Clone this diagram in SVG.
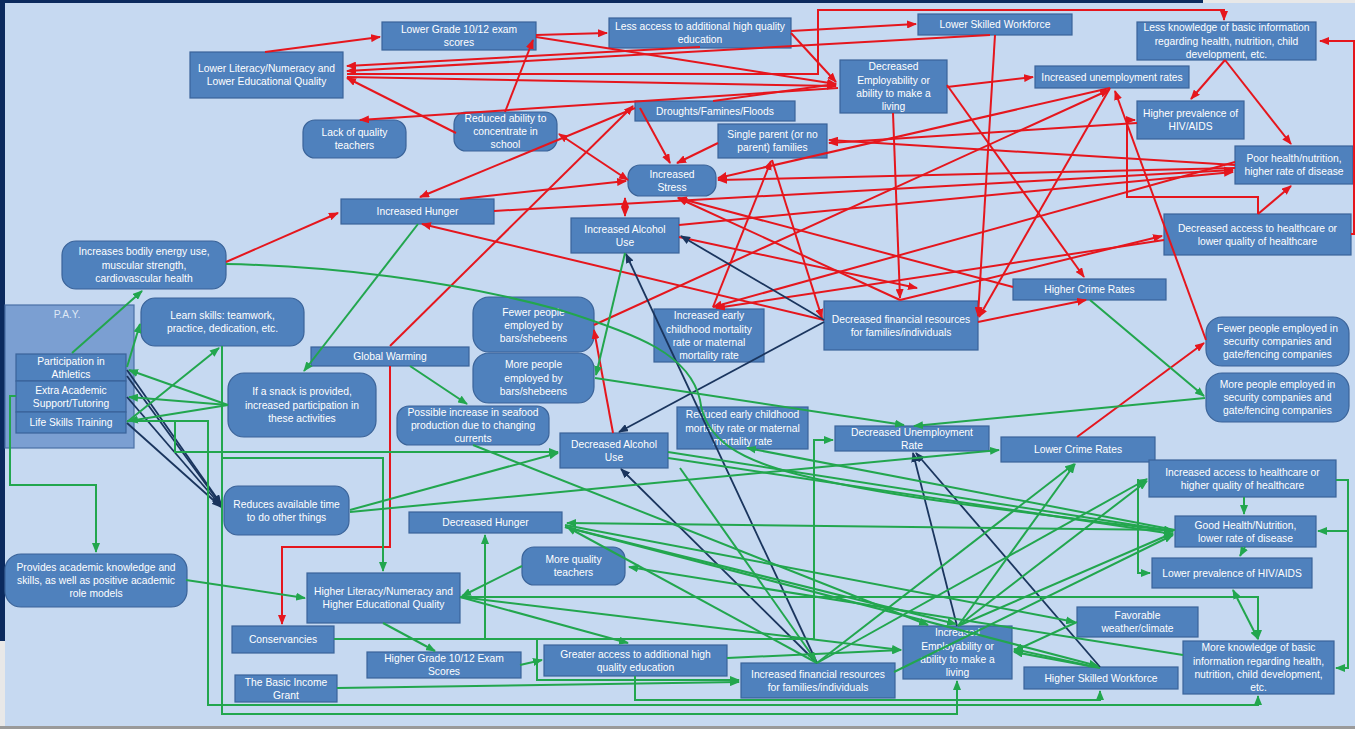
<svg xmlns="http://www.w3.org/2000/svg" width="1355" height="729" viewBox="0 0 1355 729">
<style>
.box{fill:#4f81bd;stroke:#3a6399;stroke-width:1.2}
.t{fill:#ffffff;font-family:"Liberation Sans",Arial,sans-serif;font-size:10.3px;text-anchor:middle}
.r{fill:none;stroke:#e5161d;stroke-width:2;marker-end:url(#ar)}
.rd{marker-start:url(#ar)}
.g{fill:none;stroke:#22a64e;stroke-width:2;marker-end:url(#ag)}
.gd{marker-start:url(#ag)}
.n{fill:none;stroke:#1a355e;stroke-width:1.8;marker-end:url(#an)}
</style>
<defs>
<marker id="ar" viewBox="0 0 10 8" refX="9" refY="4" markerWidth="10" markerHeight="8" markerUnits="userSpaceOnUse" orient="auto-start-reverse"><path d="M0,0 L10,4 L0,8 z" fill="#e5161d"/></marker>
<marker id="ag" viewBox="0 0 10 8" refX="9" refY="4" markerWidth="10" markerHeight="8" markerUnits="userSpaceOnUse" orient="auto-start-reverse"><path d="M0,0 L10,4 L0,8 z" fill="#22a64e"/></marker>
<marker id="an" viewBox="0 0 10 8" refX="9" refY="4" markerWidth="10" markerHeight="8" markerUnits="userSpaceOnUse" orient="auto-start-reverse"><path d="M0,0 L10,4 L0,8 z" fill="#1a355e"/></marker>
</defs>
<rect x="0" y="0" width="1355" height="729" fill="#e8e8e8"/>
<rect x="0" y="0" width="1203" height="4" fill="#0b2a5e"/>
<rect x="0" y="0" width="6" height="641" fill="#0b2a5e"/>
<rect x="5" y="3" width="1350" height="723" fill="#c6d9f1"/>
<rect x="0" y="726" width="1355" height="3" fill="#9a9a9a"/>

<g id="n-lower-literacy"><rect class="box" x="190" y="52" width="153" height="46"/><text class="t"><tspan x="266.5" y="72">Lower Literacy/Numeracy and</tspan><tspan x="266.5" y="85.3">Lower Educational Quality</tspan></text></g>
<g id="n-lower-grade"><rect class="box" x="382" y="22" width="154" height="28"/><text class="t"><tspan x="459" y="33">Lower Grade 10/12  exam</tspan><tspan x="459" y="46.3">scores</tspan></text></g>
<g id="n-less-access"><rect class="box" x="609" y="18" width="182" height="30"/><text class="t"><tspan x="700" y="30">Less access to additional high quality</tspan><tspan x="700" y="43.3">education</tspan></text></g>
<g id="n-lower-skilled"><rect class="box" x="918" y="14" width="154" height="21"/><text class="t" x="995" y="28.1">Lower Skilled Workforce</text></g>
<g id="n-less-knowledge"><rect class="box" x="1137" y="22" width="179" height="38"/><text class="t"><tspan x="1226.5" y="31.3">Less knowledge of basic information</tspan><tspan x="1226.5" y="44.6">regarding health, nutrition, child</tspan><tspan x="1226.5" y="57.9">development, etc.</tspan></text></g>
<g id="n-decreased-employability"><rect class="box" x="840" y="60" width="107" height="53"/><text class="t"><tspan x="893.5" y="70.2">Decreased</tspan><tspan x="893.5" y="83.5">Employability or</tspan><tspan x="893.5" y="96.8">ability to make a</tspan><tspan x="893.5" y="110">living</tspan></text></g>
<g id="n-increased-unemployment"><rect class="box" x="1035" y="66" width="154" height="22"/><text class="t" x="1112" y="80.6">Increased unemployment rates</text></g>
<g id="n-higher-hiv"><rect class="box" x="1137" y="101" width="107" height="38"/><text class="t"><tspan x="1190.5" y="117">Higher prevalence of</tspan><tspan x="1190.5" y="130.3">HIV/AIDS</tspan></text></g>
<g id="n-poor-health"><rect class="box" x="1235" y="146" width="118" height="38"/><text class="t"><tspan x="1294" y="162">Poor health/nutrition,</tspan><tspan x="1294" y="175.3">higher rate of disease</tspan></text></g>
<g id="n-decreased-access-health"><rect class="box" x="1164" y="214" width="187" height="41"/><text class="t"><tspan x="1257.5" y="231.5">Decreased access to healthcare or</tspan><tspan x="1257.5" y="244.8">lower quality of healthcare</tspan></text></g>
<g id="n-lack-teachers"><rect class="box" x="303" y="120" width="103" height="38" rx="12"/><text class="t"><tspan x="354.5" y="136">Lack of quality</tspan><tspan x="354.5" y="149.3">teachers</tspan></text></g>
<g id="n-reduced-concentrate"><rect class="box" x="454" y="112" width="103" height="39" rx="12"/><text class="t"><tspan x="505.5" y="121.8">Reduced ability to</tspan><tspan x="505.5" y="135.1">concentrate in</tspan><tspan x="505.5" y="148.4">school</tspan></text></g>
<g id="n-droughts"><rect class="box" x="635" y="101" width="160" height="20"/><text class="t" x="715" y="114.6">Droughts/Famines/Floods</text></g>
<g id="n-single-parent"><rect class="box" x="718" y="124" width="109" height="34"/><text class="t"><tspan x="772.5" y="138">Single parent (or no</tspan><tspan x="772.5" y="151.3">parent) families</tspan></text></g>
<g id="n-increased-stress"><rect class="box" x="628" y="165" width="88" height="31" rx="12"/><text class="t"><tspan x="672" y="177.5">Increased</tspan><tspan x="672" y="190.8">Stress</tspan></text></g>
<g id="n-increased-hunger"><rect class="box" x="341" y="199" width="153" height="25"/><text class="t" x="417.5" y="215.1">Increased Hunger</text></g>
<g id="n-increased-alcohol"><rect class="box" x="571" y="218" width="108" height="35"/><text class="t"><tspan x="625" y="232.5">Increased Alcohol</tspan><tspan x="625" y="245.8">Use</tspan></text></g>
<g id="n-bodily-energy"><rect class="box" x="62" y="241" width="164" height="48" rx="14"/><text class="t"><tspan x="144" y="255.3">Increases bodily energy use,</tspan><tspan x="144" y="268.6">muscular strength,</tspan><tspan x="144" y="281.9">cardiovascular health</tspan></text></g>
<g id="n-pay"><rect x="5" y="305" width="129" height="143" fill="#7b9fd2" stroke="#4a70a6" stroke-width="1.2"/><text class="t" x="67" y="318" fill="#dfe8f5" style="fill:#dfe8f5">P.A.Y.</text></g>
<g id="n-athletics"><rect class="box" x="16" y="354" width="110" height="27"/><text class="t"><tspan x="71" y="364.5">Participation in</tspan><tspan x="71" y="377.8">Athletics</tspan></text></g>
<g id="n-extra-academic"><rect class="box" x="16" y="381" width="110" height="31"/><text class="t"><tspan x="71" y="393.5">Extra Academic</tspan><tspan x="71" y="406.8">Support/Tutoring</tspan></text></g>
<g id="n-life-skills"><rect class="box" x="16" y="412" width="110" height="21"/><text class="t" x="71" y="426.1">Life Skills Training</text></g>
<g id="n-learn-skills"><rect class="box" x="141" y="298" width="163" height="48" rx="14"/><text class="t"><tspan x="222.5" y="319">Learn skills: teamwork,</tspan><tspan x="222.5" y="332.3">practice, dedication, etc.</tspan></text></g>
<g id="n-global-warming"><rect class="box" x="311" y="347" width="158" height="19"/><text class="t" x="390" y="360.1">Global Warming</text></g>
<g id="n-snack"><rect class="box" x="228" y="373" width="148" height="64" rx="16"/><text class="t"><tspan x="302" y="395.3">If a snack is provided,</tspan><tspan x="302" y="408.6">increased participation in</tspan><tspan x="302" y="421.9">these activities</tspan></text></g>
<g id="n-fewer-bars"><rect class="box" x="473" y="297" width="121" height="55" rx="16"/><text class="t"><tspan x="533.5" y="315.5">Fewer people</tspan><tspan x="533.5" y="328.8">employed by</tspan><tspan x="533.5" y="342.1">bars/shebeens</tspan></text></g>
<g id="n-more-bars"><rect class="box" x="473" y="353" width="121" height="50" rx="16"/><text class="t"><tspan x="533.5" y="368.3">More people</tspan><tspan x="533.5" y="381.6">employed by</tspan><tspan x="533.5" y="394.9">bars/shebeens</tspan></text></g>
<g id="n-increased-mortality"><rect class="box" x="654" y="309" width="110" height="53"/><text class="t"><tspan x="709" y="319.2">Increased early</tspan><tspan x="709" y="332.5">childhood mortality</tspan><tspan x="709" y="345.8">rate or maternal</tspan><tspan x="709" y="359">mortality rate</tspan></text></g>
<g id="n-decreased-financial"><rect class="box" x="824" y="301" width="154" height="49"/><text class="t"><tspan x="901" y="322.5">Decreased financial resources</tspan><tspan x="901" y="335.8">for families/individuals</tspan></text></g>
<g id="n-higher-crime"><rect class="box" x="1013" y="279" width="153" height="21"/><text class="t" x="1089.5" y="293.1">Higher Crime Rates</text></g>
<g id="n-fewer-security"><rect class="box" x="1206" y="317" width="143" height="49" rx="16"/><text class="t"><tspan x="1277.5" y="331.8">Fewer people employed in</tspan><tspan x="1277.5" y="345.1">security companies and</tspan><tspan x="1277.5" y="358.4">gate/fencing companies</tspan></text></g>
<g id="n-more-security"><rect class="box" x="1206" y="373" width="143" height="49" rx="16"/><text class="t"><tspan x="1277.5" y="387.8">More people employed in</tspan><tspan x="1277.5" y="401.1">security companies and</tspan><tspan x="1277.5" y="414.4">gate/fencing companies</tspan></text></g>
<g id="n-seafood"><rect class="box" x="397" y="406" width="152" height="39" rx="12"/><text class="t"><tspan x="473" y="415.8">Possible increase in seafood</tspan><tspan x="473" y="429.1">production due to changing</tspan><tspan x="473" y="442.4">currents</tspan></text></g>
<g id="n-reduced-mortality"><rect class="box" x="677" y="407" width="131" height="42"/><text class="t"><tspan x="742.5" y="418.3">Reduced early childhood</tspan><tspan x="742.5" y="431.6">mortality rate or maternal</tspan><tspan x="742.5" y="444.9">mortality rate</tspan></text></g>
<g id="n-decreased-alcohol"><rect class="box" x="560" y="433" width="108" height="35"/><text class="t"><tspan x="614" y="447.5">Decreased Alcohol</tspan><tspan x="614" y="460.8">Use</tspan></text></g>
<g id="n-decreased-unemployment"><rect class="box" x="835" y="426" width="154" height="25"/><text class="t"><tspan x="912" y="435.5">Decreased Unemployment</tspan><tspan x="912" y="448.8">Rate</tspan></text></g>
<g id="n-lower-crime"><rect class="box" x="1001" y="437" width="154" height="25"/><text class="t" x="1078" y="453.1">Lower Crime Rates</text></g>
<g id="n-increased-access-health"><rect class="box" x="1149" y="460" width="187" height="37"/><text class="t"><tspan x="1242.5" y="475.5">Increased access to healthcare or</tspan><tspan x="1242.5" y="488.8">higher quality of healthcare</tspan></text></g>
<g id="n-good-health"><rect class="box" x="1175" y="516" width="141" height="31"/><text class="t"><tspan x="1245.5" y="528.5">Good Health/Nutrition,</tspan><tspan x="1245.5" y="541.8">lower rate of disease</tspan></text></g>
<g id="n-lower-hiv"><rect class="box" x="1152" y="558" width="160" height="30"/><text class="t" x="1232" y="576.6">Lower prevalence of HIV/AIDS</text></g>
<g id="n-reduces-time"><rect class="box" x="224" y="486" width="125" height="49" rx="14"/><text class="t"><tspan x="286.5" y="507.5">Reduces available time</tspan><tspan x="286.5" y="520.8">to do other things</tspan></text></g>
<g id="n-decreased-hunger"><rect class="box" x="409" y="512" width="153" height="21"/><text class="t" x="485.5" y="526.1">Decreased Hunger</text></g>
<g id="n-more-teachers"><rect class="box" x="522" y="547" width="103" height="38" rx="12"/><text class="t"><tspan x="573.5" y="563">More quality</tspan><tspan x="573.5" y="576.3">teachers</tspan></text></g>
<g id="n-provides-academic"><rect class="box" x="5" y="554" width="182" height="53" rx="16"/><text class="t"><tspan x="96" y="570.8">Provides academic knowledge and</tspan><tspan x="96" y="584.1">skills, as well as positive academic</tspan><tspan x="96" y="597.4">role models</tspan></text></g>
<g id="n-higher-literacy"><rect class="box" x="307" y="573" width="153" height="50"/><text class="t"><tspan x="383.5" y="595">Higher Literacy/Numeracy and</tspan><tspan x="383.5" y="608.3">Higher Educational Quality</tspan></text></g>
<g id="n-conservancies"><rect class="box" x="232" y="626" width="102" height="27"/><text class="t" x="283" y="643.1">Conservancies</text></g>
<g id="n-higher-grade"><rect class="box" x="367" y="652" width="154" height="26"/><text class="t"><tspan x="444" y="662">Higher Grade 10/12  Exam</tspan><tspan x="444" y="675.3">Scores</tspan></text></g>
<g id="n-basic-income"><rect class="box" x="235" y="675" width="102" height="27"/><text class="t"><tspan x="286" y="685.5">The Basic  Income</tspan><tspan x="286" y="698.8">Grant</tspan></text></g>
<g id="n-greater-access"><rect class="box" x="544" y="645" width="183" height="31"/><text class="t"><tspan x="635.5" y="657.5">Greater access to additional high</tspan><tspan x="635.5" y="670.8">quality education</tspan></text></g>
<g id="n-increased-financial"><rect class="box" x="741" y="663" width="154" height="35"/><text class="t"><tspan x="818" y="677.5">Increased financial resources</tspan><tspan x="818" y="690.8">for families/individuals</tspan></text></g>
<g id="n-increased-employability"><rect class="box" x="903" y="626" width="109" height="53"/><text class="t"><tspan x="957.5" y="636.2">Increased</tspan><tspan x="957.5" y="649.5">Employability or</tspan><tspan x="957.5" y="662.8">ability to make a</tspan><tspan x="957.5" y="676">living</tspan></text></g>
<g id="n-favorable-weather"><rect class="box" x="1077" y="607" width="121" height="30"/><text class="t"><tspan x="1137.5" y="619">Favorable</tspan><tspan x="1137.5" y="632.3">weather/climate</tspan></text></g>
<g id="n-higher-skilled"><rect class="box" x="1024" y="667" width="154" height="22"/><text class="t" x="1101" y="681.6">Higher Skilled Workforce</text></g>
<g id="n-more-knowledge"><rect class="box" x="1183" y="641" width="151" height="53"/><text class="t"><tspan x="1258.5" y="651.2">More knowledge of basic</tspan><tspan x="1258.5" y="664.5">information regarding health,</tspan><tspan x="1258.5" y="677.8">nutrition, child development,</tspan><tspan x="1258.5" y="691">etc.</tspan></text></g>

<g id="connectors">
<g id="red">
<path class="r" d="M265,52 L380,37"/>
<path class="r" d="M536,35 L607,33"/>
<path class="r" d="M536,37 L836,84"/>
<path class="r" d="M791,33 L836,82"/>
<path class="r" d="M791,31 L916,24"/>
<path class="r" d="M700,47 L347,66"/>
<path class="r" d="M347,74 H818 V10 H1224 V20"/>
<path class="r" d="M347,77 L836,86"/>
<path class="r" d="M990,35 L347,71"/>
<path class="r" d="M995,35 L978,316"/>
<path class="r" d="M456,133 L347,78"/>
<path class="r" d="M505,112 L533,40"/>
<path class="r" d="M838,88 L360,120"/>
<path class="r" d="M713,101 L836,84"/>
<path class="r" d="M635,108 L420,197"/>
<path class="r" d="M390,346 L633,106"/>
<path class="r" d="M640,108 L670,163"/>
<path class="r" d="M718,143 L677,163"/>
<path class="r rd" d="M625,198 L625,216"/>
<path class="r rd" d="M628,180 L559,134"/>
<path class="r" d="M460,199 L626,181"/>
<path class="r" d="M494,211 L1233,170"/>
<path class="r" d="M824,320 L422,224"/>
<path class="r" d="M947,87 L1033,77"/>
<path class="r" d="M1225,60 L1191,99"/>
<path class="r" d="M1225,60 L1291,144"/>
<path class="r" d="M1258,214 L1291,186"/>
<path class="r" d="M1258,214 V197 H1127 V120 H1135"/>
<path class="r" d="M1351,234 H1354 V41 H1320"/>
<path class="r" d="M1235,165 L829,140"/>
<path class="r" d="M1235,168 L718,180"/>
<path class="r" d="M1110,88 L718,178"/>
<path class="r" d="M1137,123 L829,143"/>
<path class="r" d="M713,307 L771,161"/>
<path class="r" d="M772,160 L822,318"/>
<path class="r" d="M900,300 L678,198"/>
<path class="r" d="M1013,287 L678,198"/>
<path class="r" d="M679,237 L917,288"/>
<path class="r" d="M947,85 L1084,277"/>
<path class="r" d="M893,113 L900,298"/>
<path class="r" d="M1206,340 L1115,91"/>
<path class="r" d="M594,325 L1109,90"/>
<path class="r" d="M1110,88 L979,317"/>
<path class="r" d="M978,322 L1086,300"/>
<path class="r" d="M900,300 L1162,236"/>
<path class="r" d="M1077,437 L1204,343"/>
<path class="r" d="M390,366 V547 H282 V624"/>
<path class="r" d="M226,262 L338,213"/>
<path class="r" d="M613,433 L594,330"/>
<path class="r" d="M1235,162 L713,307"/>
<path class="r" d="M1164,240 L716,308"/>
<path class="r" d="M679,225 L1233,172"/>
</g>
<g id="navy">
<path class="n" d="M824,320 L681,236"/>
<path class="n" d="M824,322 L619,432"/>
<path class="n" d="M817,663 L626,254"/>
<path class="n" d="M817,663 L621,469"/>
<path class="n" d="M957,626 L913,453"/>
<path class="n" d="M1100,667 L916,453"/>
<path class="n" d="M127,370 L221,504"/>
<path class="n" d="M127,376 L221,505"/>
<path class="n" d="M127,397 L221,506"/>
<path class="n" d="M127,423 L221,507"/>
</g>
<g id="green">
<path class="g" d="M72,353 L142,291"/>
<path class="g" d="M127,367 L140,324"/>
<path class="g" d="M127,422 L219,348"/>
<path class="g" d="M228,405 L129,370"/>
<path class="g" d="M228,405 L129,397"/>
<path class="g" d="M228,405 L129,421"/>
<path class="g" d="M127,421 H208 V705 H1258 V696"/>
<path class="g" d="M222,346 V714 H957 V681"/>
<path class="g" d="M127,421 H175 V452 H558"/>
<path class="g" d="M222,458 H383 V571"/>
<path class="g" d="M16,396 H10 V485 H96 V552"/>
<path class="g" d="M186,580 L305,598"/>
<path class="g" d="M226,264 C330,266 450,280 560,310 C640,335 690,355 700,400 C705,440 740,460 800,475 C900,500 1050,515 1173,531"/>
<path class="g" d="M522,566 L462,596"/>
<path class="g" d="M460,597 H1258 V639"/>
<path class="g" d="M460,597 L628,643"/>
<path class="g" d="M460,597 L901,650"/>
<path class="g" d="M383,623 L435,651"/>
<path class="g" d="M334,639 H814 V440 H833"/>
<path class="g" d="M485,639 V535"/>
<path class="g" d="M537,639 V680 H739"/>
<path class="g" d="M337,688 L739,682"/>
<path class="g" d="M635,676 V700 H1100 V691"/>
<path class="g" d="M520,665 L542,660"/>
<path class="g" d="M727,658 L901,650"/>
<path class="g" d="M1175,530 L567,523"/>
<path class="g" d="M418,224 L304,371"/>
<path class="g" d="M410,366 L467,404"/>
<path class="g" d="M473,445 L928,625"/>
<path class="g" d="M668,452 L1173,531"/>
<path class="g" d="M668,458 L1173,534"/>
<path class="g" d="M1175,530 L747,448"/>
<path class="g" d="M350,510 L558,453"/>
<path class="g" d="M350,512 L999,450"/>
<path class="g" d="M817,663 L1147,479"/>
<path class="g" d="M1138,479 V573 H1150"/>
<path class="g" d="M817,663 L1074,464"/>
<path class="g" d="M958,626 L1075,464"/>
<path class="g" d="M958,626 L1147,481"/>
<path class="g" d="M958,626 L1173,533"/>
<path class="g" d="M894,672 L1173,535"/>
<path class="g" d="M1245,547 L1240,556"/>
<path class="g" d="M1244,497 L1244,514"/>
<path class="g" d="M1336,480 H1348 V668 H1336"/>
<path class="g" d="M1348,531 H1318"/>
<path class="g gd" d="M1233,590 L1258,639"/>
<path class="g" d="M1090,300 L1204,396"/>
<path class="g" d="M1205,398 L914,426"/>
<path class="g" d="M595,378 L904,425"/>
<path class="g" d="M625,253 L596,375"/>
<path class="g" d="M1100,668 L1014,652"/>
<path class="g" d="M1095,667 L1014,649"/>
<path class="g" d="M1077,622 L1014,651"/>
<path class="g" d="M680,468 L816,661"/>
<path class="g" d="M817,663 L567,527"/>
<path class="g" d="M565,525 L1075,622"/>
<path class="g" d="M565,527 L956,624"/>
<path class="g" d="M1183,655 L629,567"/>
<path class="g" d="M565,527 L1098,666"/>
</g>
</g>
</svg>
